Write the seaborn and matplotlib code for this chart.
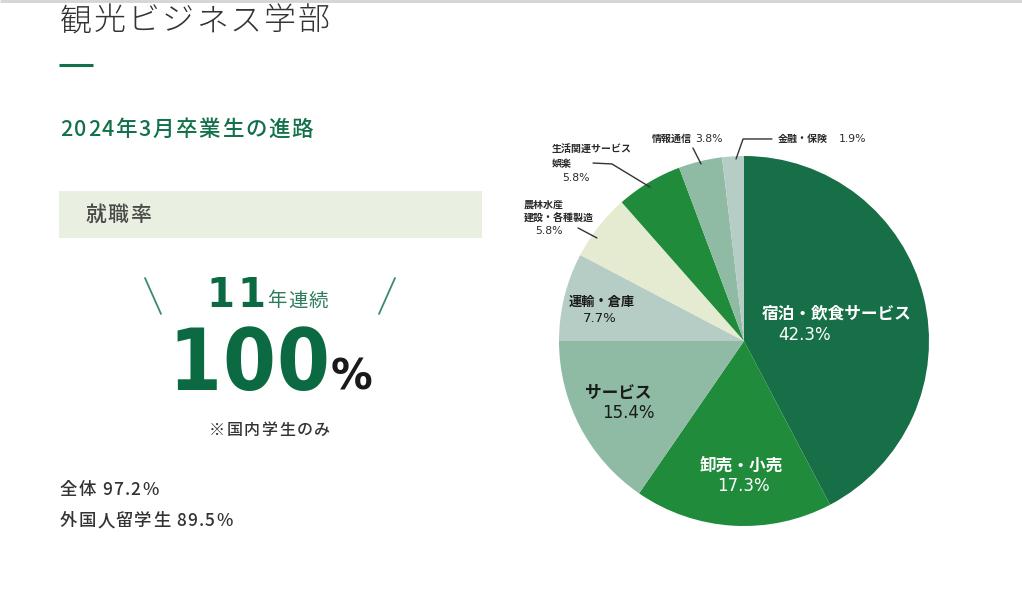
import matplotlib
matplotlib.use("Agg")
import matplotlib.pyplot as plt
import seaborn as sns
from matplotlib.patches import Rectangle
from matplotlib.font_manager import FontProperties, findfont, get_font

# ---------------- data ----------------
categories = ["宿泊・飲食サービス", "卸売・小売", "サービス", "運輸・倉庫",
              "農林水産\n建設・各種製造", "生活関連サービス\n娯楽", "情報通信", "金融・保険"]
shares = [42.3, 17.3, 15.4, 7.7, 5.8, 5.8, 3.8, 1.9]
slice_colors = ["#176f47", "#1f8b3b", "#8fbaa3", "#b5cdc5",
                "#e5ebd0", "#1f8b3b", "#8fbaa3", "#b5cdc5"]
title_text = "観光ビジネス学部"
subtitle_text = "2024年3月卒業生の進路"
box_label = "就職率"
streak_years = 11
domestic_rate = 100
overall_rate = 97.2
intl_rate = 89.5

# ---------------- style ----------------
sns.set_theme(style="white")
plt.rcParams['font.family'] = ['Noto Sans CJK JP', 'DejaVu Sans']

DPI = 100
W, H = 1022, 601
fig = plt.figure(figsize=(W / DPI, H / DPI), dpi=DPI)
fig.patch.set_facecolor("white")

# overlay axes in pixel units (for page text / decoration)
ov = fig.add_axes([0, 0, 1, 1])
ov.set_xlim(0, W)
ov.set_ylim(H, 0)
ov.axis("off")


def advance(ch, prop):
    f = get_font(findfont(prop))
    f.set_size(prop.get_size_in_points(), DPI)
    g = f.load_char(ord(ch))
    return g.linearHoriAdvance / 65536


def spaced(x, y, s, size, spacing, color, weight="normal", family=None, va="center", stretch="normal"):
    fam = family if family is not None else ['Noto Sans CJK JP', 'DejaVu Sans']
    prop = FontProperties(family=fam, size=size, weight=weight, stretch=stretch)
    cur = x
    for ch in s:
        ov.text(cur, y, ch, fontproperties=prop, color=color, ha="left", va=va)
        cur += advance(ch, prop) + spacing
    return cur


# top border
ov.plot([0, W], [0.8, 0.8], color="#d4d4d4", lw=2, solid_capstyle="butt")

# title + accent
spaced(60, 21, title_text, 23, 2, "#333333", weight="light")
ov.plot([59, 93], [64.5, 64.5], color="#12704a", lw=2.2, solid_capstyle="butt")
spaced(60, 130, subtitle_text, 15.5, 1.6, "#12704a", weight="medium")

# box
ov.add_patch(Rectangle((59, 191), 423, 47, facecolor="#e9f0e1", edgecolor="none"))
spaced(85, 215, box_label, 15, 1.5, "#4a4a4a", weight="medium")

# slashes
ov.plot([145, 161], [278, 314], color="#3f8a6a", lw=1.3)
ov.plot([395, 379], [278, 314], color="#3f8a6a", lw=1.3)

# streak
spaced(206, 307, str(streak_years), 29, 3, "#0b6a42", weight="bold",
       family=["DejaVu Sans"], va="baseline")
spaced(267, 301, "年連続", 14, 1.5, "#2e7a5a")

# 100 %
end = spaced(168, 390, str(domestic_rate), 61, 1, "#0b6a42", weight="bold",
             family=["DejaVu Sans"], va="baseline", stretch="condensed")
spaced(331, 390, "%", 30, 0, "#1a1a1a", weight="bold", family=["DejaVu Sans"], va="baseline")

spaced(209, 430, "※国内学生のみ", 11.5, 1.5, "#333333", weight="medium")

spaced(60, 490, f"全体 {overall_rate:.1f}%", 12.5, 1.2, "#333333", weight="medium")
spaced(60, 521, f"外国人留学生 {intl_rate:.1f}%", 12.5, 1.2, "#333333", weight="medium")

# ---------------- pie ----------------
cx, cy, R = 744, 341, 185
pie_ax = fig.add_axes([(cx - R) / W, (H - cy - R) / H, 2 * R / W, 2 * R / H])
pie_ax.pie(shares, colors=slice_colors, startangle=90, counterclock=False,
           radius=1, wedgeprops=dict(linewidth=0))
pie_ax.set_xlim(-1, 1)
pie_ax.set_ylim(-1, 1)
pie_ax.set_aspect("equal")
pie_ax.axis("off")

# label layout (data coords, radius = 1)
inside = [
    # (name pos, pct pos, size, color)
    ((0.097, 0.151), (0.184, 0.032), 12, "white"),
    ((-0.238, -0.676), (-0.146, -0.784), 12, "white"),
    ((-0.859, -0.281), (-0.768, -0.389), 12, "#1a1a1a"),
    ((-0.946, 0.211), (-0.870, 0.119), 9.5, "#1a1a1a"),
]
for i, (npos, ppos, size, col) in enumerate(inside):
    pie_ax.text(*npos, categories[i], fontsize=size, color=col, fontweight="bold",
                ha="left", va="center")
    pie_ax.text(*ppos, f"{shares[i]:.1f}%", fontsize=size, color=col,
                ha="left", va="center", family=["DejaVu Sans"])

small = 7.2
ink = "#2a2a2a"
pct_kw = dict(fontsize=small + 0.6, color=ink, ha="left", va="center", family=["DejaVu Sans"])
# 農林水産 / 建設・各種製造
l1, l2 = categories[4].split("\n")
pie_ax.text(-1.189, 0.735, l1, fontsize=small, color=ink, fontweight="bold", ha="left", va="center")
pie_ax.text(-1.189, 0.668, l2, fontsize=small, color=ink, fontweight="bold", ha="left", va="center")
pie_ax.text(-1.130, 0.595, f"{shares[4]:.1f}%", **pct_kw)
pie_ax.plot([-0.897, -0.795], [0.611, 0.557], color="#333333", lw=1, clip_on=False)

# 生活関連サービス / 娯楽
l1, l2 = categories[5].split("\n")
pie_ax.text(-1.038, 1.032, l1, fontsize=small, color=ink, fontweight="bold", ha="left", va="center")
pie_ax.text(-1.038, 0.957, l2, fontsize=small, color=ink, fontweight="bold", ha="left", va="center")
pie_ax.text(-0.984, 0.881, f"{shares[5]:.1f}%", **pct_kw)
pie_ax.plot([-0.816, -0.714, -0.508], [0.962, 0.957, 0.832], color="#333333", lw=1, clip_on=False)

# 情報通信
pie_ax.text(-0.497, 1.092, categories[6], fontsize=small, color=ink, fontweight="bold",
            ha="left", va="center")
pie_ax.text(-0.265, 1.092, f"{shares[6]:.1f}%", **pct_kw)
pie_ax.plot([-0.276, -0.232], [1.043, 0.957], color="#333333", lw=1, clip_on=False)

# 金融・保険
pie_ax.text(0.184, 1.092, categories[7], fontsize=small, color=ink, fontweight="bold",
            ha="left", va="center")
pie_ax.text(0.514, 1.092, f"{shares[7]:.1f}%", **pct_kw)
pie_ax.plot([0.151, -0.005, -0.043], [1.092, 1.092, 0.984], color="#333333", lw=1, clip_on=False)

fig.savefig("out.png", dpi=DPI, facecolor="white")
